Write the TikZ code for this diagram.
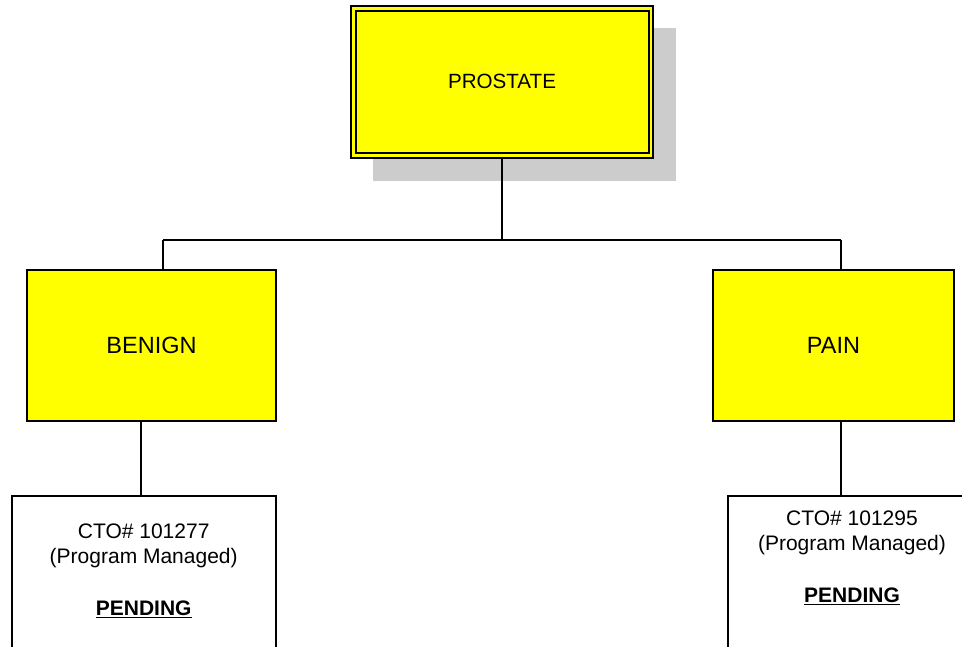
\documentclass[tikz,border=0pt]{standalone}
\usepackage{fontspec}
\setmainfont{Liberation Sans}
\definecolor{shadowgray}{HTML}{CCCCCC}
\definecolor{boxyellow}{RGB}{255,255,0}
\begin{document}
\begin{tikzpicture}[x=1pt,y=-1pt,
  ybox/.style={draw=black,line width=1.2pt,fill=boxyellow,inner sep=0pt,outer sep=0pt},
  wbox/.style={draw=black,line width=1.2pt,fill=white,inner sep=0pt,outer sep=0pt},
  frame/.style={draw=black,line width=1.2pt,inner sep=0pt,outer sep=0pt},
  conn/.style={draw=black,line width=1.2pt},
  lbl/.style={inner sep=0pt,align=center,font=\fontsize{21}{25}\selectfont}]
\useasboundingbox (0,0) rectangle (962,647);
% shadow
\fill[shadowgray] (373,28) rectangle (676,181);
% top box
\node[ybox,minimum width=302pt,minimum height=152pt] (prostate) at (502,82) {};
\node[frame,minimum width=293pt,minimum height=142pt] (prostatein) at (502.5,82) {};
\node[inner sep=0pt,font=\fontsize{20.6}{24}\selectfont] (prostatetxt) at (502,81) {PROSTATE};
% second level
\node[ybox,minimum width=249pt,minimum height=151pt,font=\fontsize{23.5}{28}\selectfont] (benign) at (151.5,345.5) {BENIGN};
\node[ybox,minimum width=241pt,minimum height=151pt,font=\fontsize{23.5}{28}\selectfont] (pain) at (833.5,345.5) {PAIN};
% bottom boxes
\node[wbox,minimum width=264pt,minimum height=152pt] (cto1) at (144,572) {};
\node[wbox,minimum width=248pt,minimum height=152pt] (cto2) at (852,572) {};
\node[lbl] (cto1txt) at (143.7,571) {CTO\# 101277\\(Program Managed)\\[27pt]\underline{\textbf{PENDING}}};
\node[lbl] (cto2txt) at (852,558) {CTO\# 101295\\(Program Managed)\\[27pt]\underline{\textbf{PENDING}}};
% connectors
\coordinate (bus) at (502,240);
\coordinate (busl) at (163,240);
\coordinate (busr) at (841,240);
\coordinate (bl) at (141,0);
\coordinate (br) at (841,0);
\draw[conn] (prostate.south) -- (bus);
\draw[conn] (busl) -- (busr);
\draw[conn] (busl) -- (busl |- benign.north);
\draw[conn] (busr) -- (busr |- pain.north);
\draw[conn] (bl |- benign.south) -- (bl |- cto1.north);
\draw[conn] (br |- pain.south) -- (br |- cto2.north);
\end{tikzpicture}
\end{document}
